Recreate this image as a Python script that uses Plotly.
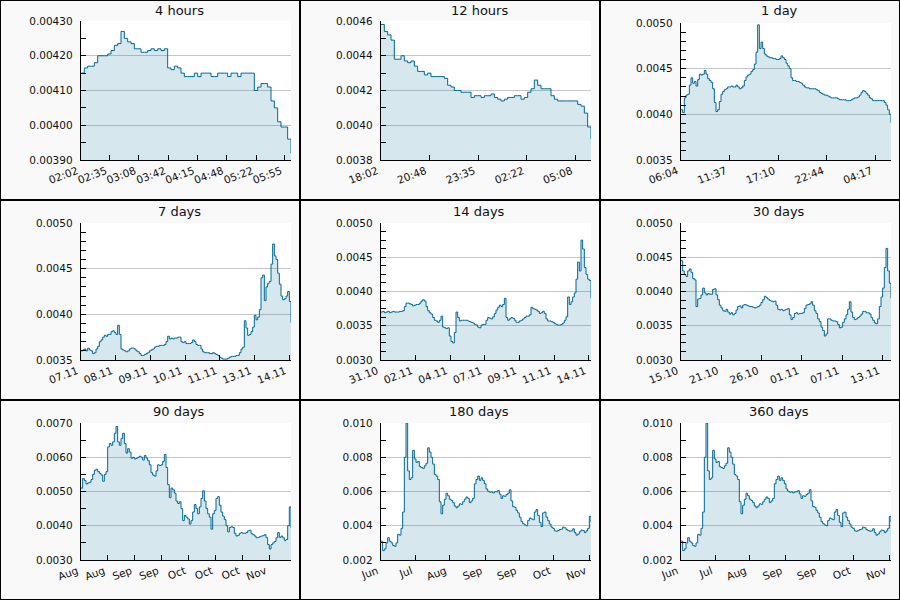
import pandas as pd
import plotly.graph_objects as go

# ---------------- data ----------------
titles = ["4 hours", "12 hours", "1 day", "7 days", "14 days", "30 days",
          "90 days", "180 days", "360 days"]

t_start = ["2013-11-14 02:02", "2013-11-13 18:02", "2013-11-13 06:04",
           "2013-11-07 06:02", "2013-10-31 06:02", "2013-10-15 06:02",
           "2013-08-16 06:02", "2013-06-20 00:00", "2013-06-20 00:00"]
t_end = ["2013-11-14 06:02", "2013-11-14 06:02", "2013-11-14 06:04",
         "2013-11-14 06:02", "2013-11-14 06:02", "2013-11-14 06:02",
         "2013-11-14 06:02", "2013-11-14 06:02", "2013-11-14 06:02"]

v_4h = [0.004150, 0.004165, 0.004170, 0.004170, 0.004180, 0.004200, 0.004200, 0.004200,
        0.004205, 0.004215, 0.004230, 0.004235, 0.004270, 0.004250, 0.004240, 0.004235,
        0.004220, 0.004220, 0.004210, 0.004210, 0.004215, 0.004220, 0.004215, 0.004220,
        0.004215, 0.004220, 0.004165, 0.004160, 0.004170, 0.004165, 0.004150, 0.004140,
        0.004140, 0.004140, 0.004150, 0.004140, 0.004150, 0.004150, 0.004150, 0.004140,
        0.004140, 0.004150, 0.004150, 0.004150, 0.004140, 0.004150, 0.004150, 0.004140,
        0.004150, 0.004150, 0.004150, 0.004150, 0.004100, 0.004110, 0.004120, 0.004120,
        0.004110, 0.004070, 0.004050, 0.004010, 0.003995, 0.003995, 0.003960, 0.003920]

v_12h = [0.00458, 0.00454, 0.00452, 0.00449, 0.00438, 0.00438, 0.00440, 0.00437,
         0.00436, 0.00437, 0.00434, 0.00431, 0.00431, 0.00429, 0.00430, 0.00428,
         0.00428, 0.00428, 0.00428, 0.00427, 0.00423, 0.00422, 0.00420, 0.00420,
         0.00419, 0.00419, 0.00419, 0.00416, 0.00417, 0.00417, 0.00416, 0.00417,
         0.00417, 0.00418, 0.00416, 0.00415, 0.00414, 0.00415, 0.00416, 0.00416,
         0.00417, 0.00417, 0.00415, 0.00416, 0.00419, 0.00421, 0.00426, 0.00423,
         0.00421, 0.00421, 0.00421, 0.00417, 0.00415, 0.00414, 0.00414, 0.00414,
         0.00414, 0.00414, 0.00414, 0.00412, 0.00411, 0.00407, 0.00399, 0.00392]

v_1d = [0.00405, 0.00402, 0.00418, 0.00421, 0.00422, 0.00432, 0.00440, 0.00434,
        0.00436, 0.00431, 0.00438, 0.00444, 0.00443, 0.00444, 0.00448, 0.00444,
        0.00439, 0.00437, 0.00435, 0.00428, 0.00413, 0.00403, 0.00405, 0.00414,
        0.00422, 0.00425, 0.00427, 0.00428, 0.00430, 0.00430, 0.00431, 0.00430,
        0.00430, 0.00432, 0.00430, 0.00428, 0.00429, 0.00431, 0.00437, 0.00441,
        0.00443, 0.00444, 0.00447, 0.00449, 0.00455, 0.00468, 0.00498, 0.00472,
        0.00479, 0.00472, 0.00466, 0.00464, 0.00463, 0.00462, 0.00462, 0.00461,
        0.00461, 0.00460, 0.00460, 0.00461, 0.00464, 0.00462, 0.00460, 0.00456,
        0.00453, 0.00450, 0.00440, 0.00437, 0.00437, 0.00436, 0.00436, 0.00435,
        0.00434, 0.00432, 0.00430, 0.00429, 0.00429, 0.00428, 0.00428, 0.00428,
        0.00428, 0.00427, 0.00426, 0.00424, 0.00423, 0.00422, 0.00421, 0.00421,
        0.00420, 0.00419, 0.00418, 0.00418, 0.00418, 0.00418, 0.00417, 0.00416,
        0.00416, 0.00416, 0.00416, 0.00415, 0.00415, 0.00415, 0.00416, 0.00417,
        0.00418, 0.00418, 0.00419, 0.00421, 0.00424, 0.00426, 0.00425, 0.00423,
        0.00421, 0.00418, 0.00417, 0.00415, 0.00415, 0.00415, 0.00415, 0.00415,
        0.00415, 0.00415, 0.00413, 0.00410, 0.00405, 0.00400, 0.00391]

v_7d = [0.00360, 0.00361, 0.00362, 0.00360, 0.00363, 0.00361, 0.00360, 0.00357,
        0.00358, 0.00362, 0.00365, 0.00370, 0.00372, 0.00375, 0.00377, 0.00376,
        0.00378, 0.00378, 0.00381, 0.00382, 0.00380, 0.00378, 0.00388, 0.00378,
        0.00362, 0.00361, 0.00360, 0.00359, 0.00360, 0.00362, 0.00363, 0.00363,
        0.00362, 0.00360, 0.00359, 0.00357, 0.00355, 0.00355, 0.00356, 0.00357,
        0.00358, 0.00360, 0.00361, 0.00362, 0.00364, 0.00365, 0.00365, 0.00366,
        0.00366, 0.00366, 0.00367, 0.00370, 0.00376, 0.00373, 0.00374, 0.00373,
        0.00374, 0.00374, 0.00375, 0.00375, 0.00370, 0.00369, 0.00370, 0.00368,
        0.00368, 0.00368, 0.00369, 0.00372, 0.00370, 0.00367, 0.00366, 0.00366,
        0.00362, 0.00359, 0.00358, 0.00358, 0.00358, 0.00357, 0.00357, 0.00358,
        0.00357, 0.00356, 0.00355, 0.00353, 0.00352, 0.00351, 0.00351, 0.00351,
        0.00352, 0.00353, 0.00354, 0.00354, 0.00354, 0.00355, 0.00355, 0.00358,
        0.00362, 0.00364, 0.00393, 0.00385, 0.00377, 0.00378, 0.00381, 0.00386,
        0.00399, 0.00394, 0.00397, 0.00405, 0.00440, 0.00443, 0.00415, 0.00430,
        0.00434, 0.00436, 0.00455, 0.00477, 0.00464, 0.00460, 0.00445, 0.00433,
        0.00420, 0.00416, 0.00417, 0.00420, 0.00425, 0.00414, 0.00391]

v_14d = [0.00370, 0.00371, 0.00369, 0.00370, 0.00371, 0.00369, 0.00370, 0.00371,
         0.00370, 0.00370, 0.00370, 0.00371, 0.00371, 0.00372, 0.00378, 0.00383,
         0.00383, 0.00382, 0.00381, 0.00379, 0.00380, 0.00381, 0.00381, 0.00383,
         0.00386, 0.00388, 0.00386, 0.00378, 0.00372, 0.00369, 0.00367, 0.00362,
         0.00358, 0.00357, 0.00355, 0.00358, 0.00364, 0.00348, 0.00347, 0.00346,
         0.00347, 0.00335, 0.00327, 0.00325, 0.00340, 0.00370, 0.00362, 0.00357,
         0.00358, 0.00358, 0.00358, 0.00358, 0.00357, 0.00356, 0.00355, 0.00354,
         0.00352, 0.00351, 0.00348, 0.00347, 0.00351, 0.00352, 0.00352, 0.00358,
         0.00362, 0.00361, 0.00360, 0.00363, 0.00368, 0.00373, 0.00377, 0.00380,
         0.00378, 0.00381, 0.00390, 0.00362, 0.00358, 0.00360, 0.00362, 0.00361,
         0.00358, 0.00355, 0.00355, 0.00357, 0.00358, 0.00360, 0.00362, 0.00364,
         0.00364, 0.00366, 0.00377, 0.00375, 0.00374, 0.00373, 0.00371, 0.00368,
         0.00369, 0.00371, 0.00368, 0.00360, 0.00357, 0.00357, 0.00356, 0.00355,
         0.00353, 0.00352, 0.00351, 0.00351, 0.00352, 0.00354, 0.00358, 0.00363,
         0.00392, 0.00381, 0.00385, 0.00392, 0.00398, 0.00418, 0.00443, 0.00430,
         0.00475, 0.00462, 0.00435, 0.00425, 0.00418, 0.00416, 0.00390]

v_30d = [0.00445, 0.00430, 0.00425, 0.00422, 0.00430, 0.00433, 0.00428, 0.00419,
         0.00417, 0.00378, 0.00389, 0.00390, 0.00395, 0.00405, 0.00398, 0.00395,
         0.00397, 0.00396, 0.00396, 0.00403, 0.00404, 0.00395, 0.00388, 0.00380,
         0.00376, 0.00372, 0.00371, 0.00374, 0.00370, 0.00367, 0.00369, 0.00366,
         0.00368, 0.00373, 0.00378, 0.00379, 0.00376, 0.00380, 0.00381, 0.00380,
         0.00379, 0.00378, 0.00378, 0.00377, 0.00376, 0.00377, 0.00378, 0.00380,
         0.00384, 0.00388, 0.00393, 0.00391, 0.00389, 0.00387, 0.00386, 0.00385,
         0.00386, 0.00380, 0.00374, 0.00373, 0.00374, 0.00372, 0.00373, 0.00374,
         0.00375, 0.00366, 0.00359, 0.00362, 0.00368, 0.00369, 0.00367, 0.00368,
         0.00368, 0.00369, 0.00375, 0.00380, 0.00381, 0.00382, 0.00385, 0.00380,
         0.00372, 0.00368, 0.00360, 0.00356, 0.00348, 0.00343, 0.00335, 0.00338,
         0.00360, 0.00360, 0.00358, 0.00357, 0.00357, 0.00356, 0.00352, 0.00347,
         0.00348, 0.00355, 0.00360, 0.00366, 0.00374, 0.00385, 0.00370, 0.00362,
         0.00359, 0.00360, 0.00362, 0.00364, 0.00367, 0.00371, 0.00371, 0.00369,
         0.00369, 0.00367, 0.00362, 0.00358, 0.00354, 0.00353, 0.00360, 0.00378,
         0.00392, 0.00405, 0.00435, 0.00463, 0.00430, 0.00412, 0.00390]

v_90d = [0.00510, 0.00538, 0.00532, 0.00522, 0.00525, 0.00527, 0.00535, 0.00550,
         0.00562, 0.00565, 0.00558, 0.00553, 0.00548, 0.00530, 0.00550, 0.00558,
         0.00630, 0.00640, 0.00635, 0.00645, 0.00670, 0.00690, 0.00645, 0.00635,
         0.00655, 0.00670, 0.00640, 0.00612, 0.00625, 0.00615, 0.00597, 0.00600,
         0.00595, 0.00597, 0.00600, 0.00603, 0.00600, 0.00592, 0.00605, 0.00598,
         0.00590, 0.00578, 0.00555, 0.00548, 0.00545, 0.00560, 0.00578, 0.00576,
         0.00578, 0.00588, 0.00608, 0.00570, 0.00520, 0.00482, 0.00510, 0.00505,
         0.00495, 0.00472, 0.00465, 0.00470, 0.00450, 0.00415, 0.00430, 0.00425,
         0.00420, 0.00405, 0.00415, 0.00440, 0.00462, 0.00450, 0.00435, 0.00455,
         0.00480, 0.00502, 0.00472, 0.00450, 0.00435, 0.00425, 0.00390, 0.00435,
         0.00445, 0.00480, 0.00485, 0.00460, 0.00440, 0.00428, 0.00418, 0.00400,
         0.00382, 0.00395, 0.00397, 0.00395, 0.00378, 0.00370, 0.00372, 0.00378,
         0.00380, 0.00378, 0.00378, 0.00380, 0.00385, 0.00387, 0.00377, 0.00374,
         0.00370, 0.00365, 0.00366, 0.00368, 0.00370, 0.00371, 0.00374, 0.00365,
         0.00345, 0.00332, 0.00345, 0.00350, 0.00354, 0.00365, 0.00380, 0.00366,
         0.00370, 0.00365, 0.00357, 0.00360, 0.00400, 0.00455, 0.00395]

v_180d = [0.00310, 0.00255, 0.00265, 0.00300, 0.00330, 0.00310, 0.00300, 0.00285,
          0.00280, 0.00300, 0.00350, 0.00345, 0.00385, 0.00480, 0.00800, 0.01000,
          0.00720, 0.00670, 0.00680, 0.00840, 0.00790, 0.00770, 0.00775, 0.00745,
          0.00740, 0.00735, 0.00750, 0.00765, 0.00855, 0.00830, 0.00800, 0.00760,
          0.00700, 0.00690, 0.00670, 0.00540, 0.00470, 0.00520, 0.00555, 0.00590,
          0.00575, 0.00555, 0.00548, 0.00535, 0.00515, 0.00505, 0.00515, 0.00528,
          0.00525, 0.00540, 0.00555, 0.00568, 0.00560, 0.00535, 0.00545, 0.00560,
          0.00645, 0.00670, 0.00690, 0.00665, 0.00680, 0.00665, 0.00645, 0.00615,
          0.00602, 0.00596, 0.00598, 0.00592, 0.00598, 0.00598, 0.00605, 0.00585,
          0.00560, 0.00575, 0.00572, 0.00582, 0.00590, 0.00610, 0.00545, 0.00512,
          0.00508, 0.00490, 0.00475, 0.00450, 0.00425, 0.00412, 0.00405, 0.00400,
          0.00430, 0.00445, 0.00440, 0.00435, 0.00480, 0.00495, 0.00460, 0.00420,
          0.00395, 0.00475, 0.00480, 0.00450, 0.00430, 0.00410, 0.00392, 0.00385,
          0.00370, 0.00368, 0.00372, 0.00378, 0.00380, 0.00392, 0.00388, 0.00378,
          0.00372, 0.00368, 0.00370, 0.00382, 0.00360, 0.00345, 0.00352, 0.00365,
          0.00375, 0.00372, 0.00360, 0.00370, 0.00385, 0.00455, 0.00420]

v_360d = list(v_180d)

series = [v_4h, v_12h, v_1d, v_7d, v_14d, v_30d, v_90d, v_180d, v_360d]

x_tickvals = [
    ["2013-11-14 02:02", "2013-11-14 02:35", "2013-11-14 03:08", "2013-11-14 03:42",
     "2013-11-14 04:15", "2013-11-14 04:48", "2013-11-14 05:22", "2013-11-14 05:55"],
    ["2013-11-13 18:02", "2013-11-13 20:48", "2013-11-13 23:35", "2013-11-14 02:22",
     "2013-11-14 05:08"],
    ["2013-11-13 06:04", "2013-11-13 11:37", "2013-11-13 17:10", "2013-11-13 22:44",
     "2013-11-14 04:17"],
    ["2013-11-07 06:02", "2013-11-08 09:47", "2013-11-09 13:32", "2013-11-10 17:17",
     "2013-11-11 21:02", "2013-11-13 00:47", "2013-11-14 04:32"],
    ["2013-10-31 06:02", "2013-11-02 13:26", "2013-11-04 20:50", "2013-11-07 04:14",
     "2013-11-09 11:38", "2013-11-11 19:02", "2013-11-14 02:26"],
    ["2013-10-15 06:02", "2013-10-21 00:12", "2013-10-26 18:22", "2013-11-01 12:32",
     "2013-11-07 06:42", "2013-11-13 00:52"],
    ["2013-08-16 06:02", "2013-08-27 18:45", "2013-09-08 07:29", "2013-09-19 20:12",
     "2013-10-01 08:55", "2013-10-12 21:38", "2013-10-24 10:22", "2013-11-04 23:05"],
    ["2013-06-20", "2013-07-14", "2013-08-07", "2013-09-01", "2013-09-25",
     "2013-10-19", "2013-11-13"],
    ["2013-06-20", "2013-07-14", "2013-08-07", "2013-09-01", "2013-09-25",
     "2013-10-19", "2013-11-13"],
]
x_ticktext = [
    ["02:02", "02:35", "03:08", "03:42", "04:15", "04:48", "05:22", "05:55"],
    ["18:02", "20:48", "23:35", "02:22", "05:08"],
    ["06:04", "11:37", "17:10", "22:44", "04:17"],
    ["07.11", "08.11", "09.11", "10.11", "11.11", "13.11", "14.11"],
    ["31.10", "02.11", "04.11", "07.11", "09.11", "11.11", "14.11"],
    ["15.10", "21.10", "26.10", "01.11", "07.11", "13.11"],
    ["Aug", "Aug", "Sep", "Sep", "Oct", "Oct", "Oct", "Nov"],
    ["Jun", "Jul", "Aug", "Sep", "Sep", "Oct", "Nov"],
    ["Jun", "Jul", "Aug", "Sep", "Sep", "Oct", "Nov"],
]

y_tickvals = [
    [0.0039, 0.0040, 0.0041, 0.0042, 0.0043],
    [0.0038, 0.0040, 0.0042, 0.0044, 0.0046],
    [0.0035, 0.0040, 0.0045, 0.0050],
    [0.0035, 0.0040, 0.0045, 0.0050],
    [0.0030, 0.0035, 0.0040, 0.0045, 0.0050],
    [0.0030, 0.0035, 0.0040, 0.0045, 0.0050],
    [0.0030, 0.0040, 0.0050, 0.0060, 0.0070],
    [0.002, 0.004, 0.006, 0.008, 0.010],
    [0.002, 0.004, 0.006, 0.008, 0.010],
]
y_ticktext = [
    ["0.00390", "0.00400", "0.00410", "0.00420", "0.00430"],
    ["0.0038", "0.0040", "0.0042", "0.0044", "0.0046"],
    ["0.0035", "0.0040", "0.0045", "0.0050"],
    ["0.0035", "0.0040", "0.0045", "0.0050"],
    ["0.0030", "0.0035", "0.0040", "0.0045", "0.0050"],
    ["0.0030", "0.0035", "0.0040", "0.0045", "0.0050"],
    ["0.0030", "0.0040", "0.0050", "0.0060", "0.0070"],
    ["0.002", "0.004", "0.006", "0.008", "0.010"],
    ["0.002", "0.004", "0.006", "0.008", "0.010"],
]
y_minor = [0.00005, 0.0001, 0.0001, 0.0001, 0.000125, 0.000125, 0.0005, 0.001, 0.001]

# ---------------- styling ----------------
W, H = 900, 600
LINE = "#006896"
FILL = "rgba(0,104,150,0.16)"
FONT = "DejaVu Sans"
TICK_SIZE = 10.5
GAP = "\u2002"  # small spacing between y labels and axis line

fig = go.Figure()
layout = dict(
    width=W, height=H, margin=dict(l=0, r=0, t=0, b=0, pad=0, autoexpand=False),
    paper_bgcolor="#f9f9f9", plot_bgcolor="#ffffff",
    showlegend=False, font=dict(family=FONT, size=TICK_SIZE, color="#111111"),
    shapes=[], annotations=[],
)

for i in range(9):
    r, c = divmod(i, 3)
    n = "" if i == 0 else str(i + 1)
    times = pd.date_range(t_start[i], t_end[i], periods=len(series[i]))
    fig.add_trace(go.Scatter(
        x=times, y=series[i], mode="lines", line=dict(color=LINE, width=1, shape="hv"),
        fill="tozeroy", fillcolor=FILL, xaxis="x" + n, yaxis="y" + n,
        hoverinfo="skip"))
    top = r * 200 + (21 if i < 2 else 23)
    bot = r * 200 + 160
    layout["xaxis" + n] = dict(
        domain=[(c * 300 + 81) / W, (c * 300 + 291) / W], anchor="y" + n,
        type="date", range=[t_start[i], t_end[i]], automargin=False,
        tickmode="array", tickvals=x_tickvals[i], ticktext=x_ticktext[i],
        tickangle=-21, ticks="inside", ticklen=5, tickcolor="black",
        ticklabelshift=-4,
        showline=True, linecolor="black", linewidth=1, showgrid=False,
        zeroline=False, tickfont=dict(size=TICK_SIZE))
    lo, hi = y_tickvals[i][0], y_tickvals[i][-1]
    layout["yaxis" + n] = dict(
        domain=[1 - bot / H, 1 - top / H], anchor="x" + n, automargin=False,
        range=[lo, hi], tickmode="array", tickvals=y_tickvals[i],
        ticktext=[t + GAP for t in y_ticktext[i]],
        ticks="inside", ticklen=5, tickcolor="black",
        minor=dict(tickmode="linear", tick0=lo, dtick=y_minor[i], ticks="inside",
                   ticklen=5, tickcolor="black", showgrid=False),
        showline=True, linecolor="black", linewidth=1,
        showgrid=True, gridcolor="#c6c6c6", gridwidth=1, zeroline=False,
        tickfont=dict(size=TICK_SIZE))
    layout["annotations"].append(dict(
        text=titles[i], xref="paper", yref="paper",
        x=(c * 300 + 179) / W, y=1 - (r * 200 + 11) / H,
        xanchor="center", yanchor="middle", showarrow=False,
        font=dict(family=FONT, size=13, color="#111111")))
    layout["shapes"].append(dict(
        type="rect", xref="paper", yref="paper",
        x0=c * 300 / W, x1=(c + 1) * 300 / W, y0=1 - (r + 1) * 200 / H, y1=1 - r * 200 / H,
        line=dict(color="black", width=2), fillcolor="rgba(0,0,0,0)", layer="above"))

fig.update_layout(**layout)
fig.write_html("out.html", config={"displayModeBar": False, "responsive": False},
               post_script="document.body.style.margin='0';document.body.style.overflow='hidden';")
